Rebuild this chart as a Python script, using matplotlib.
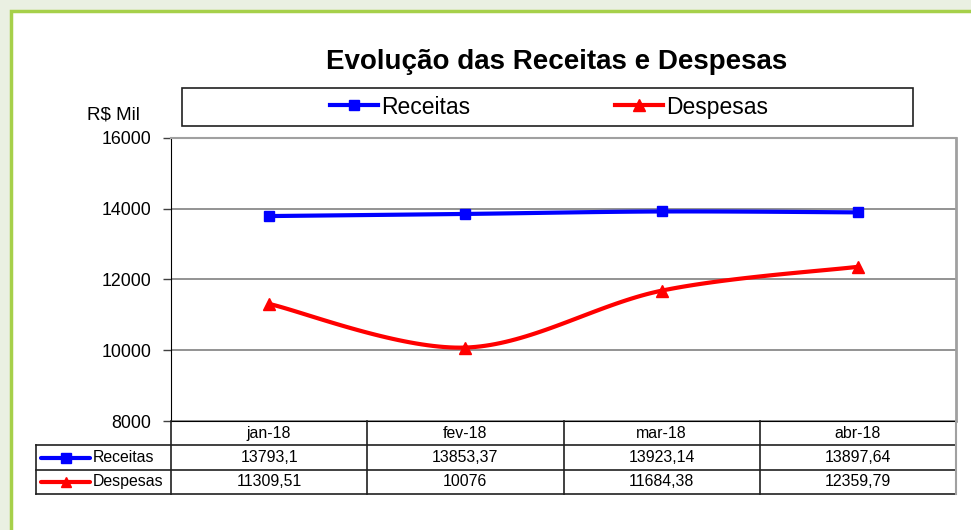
import numpy as np
import matplotlib.pyplot as plt
from matplotlib.patches import Rectangle
from matplotlib.lines import Line2D

plt.rcParams["font.family"] = ["Liberation Sans", "DejaVu Sans"]

months = ['jan-18', 'fev-18', 'mar-18', 'abr-18']
receitas = [13793.1, 13853.37, 13923.14, 13897.64]
despesas = [11309.51, 10076, 11684.38, 12359.79]
receitas_txt = ['13793,1', '13853,37', '13923,14', '13897,64']
despesas_txt = ['11309,51', '10076', '11684,38', '12359,79']
y_ticks = [8000, 10000, 12000, 14000, 16000]

W, H = 971, 530


def fx(px):
    return px / W


def fy(py):
    return 1 - py / H


def smooth(xs, ys, n=40):
    # Catmull-Rom curve through the points (like Excel's smoothed line)
    p = np.column_stack([xs, ys]).astype(float)
    p = np.vstack([p[0], p, p[-1]])
    out = []
    for i in range(1, len(p) - 2):
        p0, p1, p2, p3 = p[i - 1], p[i], p[i + 1], p[i + 2]
        t = np.linspace(0, 1, n)[:, None]
        pts = 0.5 * ((2 * p1) + (-p0 + p2) * t + (2 * p0 - 5 * p1 + 4 * p2 - p3) * t ** 2
                     + (-p0 + 3 * p1 - 3 * p2 + p3) * t ** 3)
        out.append(pts if i == 1 else pts[1:])
    out = np.vstack(out)
    return out[:, 0], out[:, 1]


fig = plt.figure(figsize=(W / 100, H / 100), dpi=100)
fig.patch.set_facecolor('#eaf0e2')

# white chart area with green border
fig.patches.append(Rectangle((fx(10.5), fy(540)), fx(1000), fy(10.5) - fy(540),
                             transform=fig.transFigure, facecolor='white',
                             edgecolor='#a6d04a', linewidth=2.5, zorder=-2))

ax = fig.add_axes([fx(171), fy(421), fx(956) - fx(171), fy(138) - fy(421)])
x = np.arange(len(months))

rx, ry = smooth(x, receitas)
dx, dy = smooth(x, despesas)
ax.plot(rx, ry, color='#0000ff', linewidth=3, solid_capstyle='round', zorder=3)
ax.plot(dx, dy, color='#ff0000', linewidth=3, solid_capstyle='round', zorder=3)
ax.plot(x, receitas, linestyle='none', marker='s', markersize=7.5, color='#0000ff', zorder=4)
ax.plot(x, despesas, linestyle='none', marker='^', markersize=8, color='#ff0000', zorder=4)

ax.set_xlim(-0.5, len(months) - 0.5)
ax.set_ylim(8000, 16000)
ax.set_yticks(y_ticks)
ax.set_yticklabels([str(v) for v in y_ticks], fontsize=12.8)
ax.set_xticks([])
ax.tick_params(axis='y', direction='out', length=6, width=1, pad=8, color='#404040')
ax.yaxis.grid(True, color='#808080', linewidth=1.2)
ax.set_axisbelow(True)
ax.spines['left'].set_color('black')
ax.spines['bottom'].set_color('black')
ax.spines['top'].set_color('#a0a0a0')
ax.spines['right'].set_color('#a0a0a0')
ax.spines['top'].set_linewidth(1.5)
ax.spines['right'].set_linewidth(2)

fig.text(fx(557), fy(62), 'Evolução das Receitas e Despesas', fontsize=20,
         fontweight='bold', ha='center', va='center')
fig.text(fx(87), fy(115), 'R$ Mil', fontsize=13.5, ha='left', va='center')

# legend box
fig.patches.append(Rectangle((fx(182), fy(126)), fx(913) - fx(182), fy(88) - fy(126),
                             transform=fig.transFigure, facecolor='white',
                             edgecolor='#202020', linewidth=1.2, zorder=1))
h1 = Line2D([], [], color='#0000ff', linewidth=3, marker='s', markersize=7.5)
h2 = Line2D([], [], color='#ff0000', linewidth=3, marker='^', markersize=8)
fig.legend([h1, h2], ['Receitas', 'Despesas'], loc='center',
           bbox_to_anchor=(fx(549), fy(107)), ncol=2, frameon=False,
           fontsize=16.5, handlelength=2.1, handletextpad=0.15, columnspacing=6.3)

# data table under the chart
tx0 = -0.5 - (171 - 36) / ((956 - 171) / len(months))
tab = fig.add_axes([fx(36), fy(494), fx(956) - fx(36), fy(421) - fy(494)])
tab.set_xlim(tx0, len(months) - 0.5)
tab.set_ylim(3, 0)
tab.axis('off')
lc = '#202020'
for yy in [1, 2, 3]:
    tab.plot([tx0, len(months) - 0.5], [yy, yy], color=lc, linewidth=1.2, clip_on=False)
for i in range(len(months) + 1):
    xx = i - 0.5
    col = '#a0a0a0' if i == len(months) else lc
    tab.plot([xx, xx], [0, 3], color=col, linewidth=1.5 if i == len(months) else 1.2,
             clip_on=False)
tab.plot([tx0, tx0], [1, 3], color=lc, linewidth=1.2, clip_on=False)

for i, m in enumerate(months):
    tab.text(i, 0.5, m, ha='center', va='center', fontsize=11.4)
    tab.text(i, 1.5, receitas_txt[i], ha='center', va='center', fontsize=11.4)
    tab.text(i, 2.5, despesas_txt[i], ha='center', va='center', fontsize=11.4)

kx0 = -0.5 + (41 - 171) / 196.25
kx1 = -0.5 + (90 - 171) / 196.25
kxm = (kx0 + kx1) / 2
tab.plot([kx0, kx1], [1.5, 1.5], color='#0000ff', linewidth=3, solid_capstyle='round', clip_on=False)
tab.plot([kxm], [1.5], marker='s', markersize=7, color='#0000ff', clip_on=False)
tab.plot([kx0, kx1], [2.5, 2.5], color='#ff0000', linewidth=3, solid_capstyle='round', clip_on=False)
tab.plot([kxm], [2.5], marker='^', markersize=7.5, color='#ff0000', clip_on=False)
ktx = -0.5 + (93 - 171) / 196.25
tab.text(ktx, 1.5, 'Receitas', ha='left', va='center', fontsize=11.4)
tab.text(ktx, 2.5, 'Despesas', ha='left', va='center', fontsize=11.4)

plt.savefig('out.png', dpi=100, facecolor=fig.get_facecolor())
